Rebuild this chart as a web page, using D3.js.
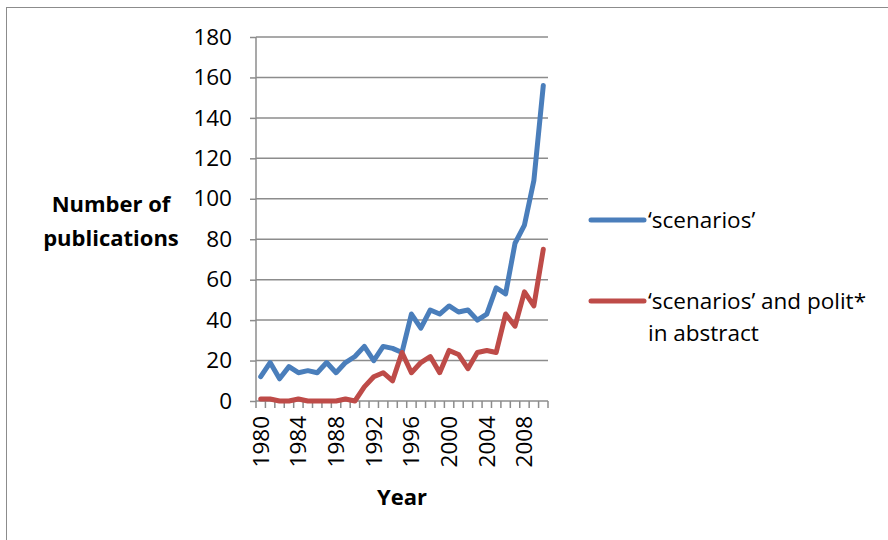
<!DOCTYPE html>
<html>
<head>
<meta charset="utf-8">
<script src="https://cdn.jsdelivr.net/npm/d3@7"></script>
<style>
  body { margin: 0; background: #fff; }
  svg { display: block; font-family: "Open Sans", Lato, sans-serif; }
  .grid line { stroke: #8c8c8c; stroke-width: 1.5; }
  .axis path, .axis line { stroke: #8c8c8c; stroke-width: 1.5; }
</style>
</head>
<body>
<svg id="chart" width="888" height="540"></svg>
<script>
// publication counts per year
var years = d3.range(1980, 2011);
var scenarios = [12, 19, 11, 17, 14, 15, 14, 19, 14, 19, 22, 27, 20, 27, 26, 24,
                 43, 36, 45, 43, 47, 44, 45, 40, 43, 56, 53, 78, 87, 109, 156];
var scenariosPolit = [1, 1, 0, 0, 1, 0, 0, 0, 0, 1, 0, 7, 12, 14, 10, 24,
                      14, 19, 22, 14, 25, 23, 16, 24, 25, 24, 43, 37, 54, 47, 75];
var yTicks = [0, 20, 40, 60, 80, 100, 120, 140, 160, 180];
var seriesNames = ['\u2018scenarios\u2019', '\u2018scenarios\u2019 and polit*'];
var seriesColors = ['#4a7ebb', '#be4b48'];

var FONT = 22.5;
var BOLD_FONT = 22;

var svg = d3.select('#chart');

// outer frame
svg.append('rect')
    .attr('x', 6.5).attr('y', 7.5)
    .attr('width', 900).attr('height', 560)
    .attr('fill', 'none')
    .attr('stroke', '#8c8c8c')
    .attr('stroke-width', 1);

var plotLeft = 256, plotRight = 548, plotTop = 37, plotBottom = 401;

var x = d3.scaleBand().domain(years).range([plotLeft, plotRight]);
var y = d3.scaleLinear().domain([0, 180]).range([plotBottom, plotTop]);

// horizontal gridlines
svg.append('g').attr('class', 'grid')
    .selectAll('line')
    .data(yTicks.filter(function (d) { return d > 0; }))
    .enter().append('line')
    .attr('x1', plotLeft).attr('x2', plotRight)
    .attr('y1', function (d) { return y(d); })
    .attr('y2', function (d) { return y(d); });

// y axis
var yAxis = svg.append('g').attr('class', 'axis')
    .attr('transform', 'translate(' + plotLeft + ',0)')
    .call(d3.axisLeft(y).tickValues(yTicks).tickSize(6).tickPadding(18));
yAxis.select('.domain').attr('d', 'M0,' + plotTop + 'V' + plotBottom);
yAxis.selectAll('text')
    .attr('font-size', FONT)
    .attr('fill', '#000')
    .attr('font-family', '"Open Sans", Lato, sans-serif');

// x axis: ticks at category boundaries
var xAxisG = svg.append('g').attr('class', 'axis');
xAxisG.append('line')
    .attr('x1', plotLeft).attr('x2', plotRight)
    .attr('y1', plotBottom).attr('y2', plotBottom);
xAxisG.selectAll('.tick')
    .data(years.concat([2011]))
    .enter().append('line')
    .attr('x1', function (d, i) { return plotLeft + i * x.step(); })
    .attr('x2', function (d, i) { return plotLeft + i * x.step(); })
    .attr('y1', plotBottom).attr('y2', plotBottom + 7);

svg.append('g')
    .selectAll('text')
    .data(years.filter(function (d) { return (d - 1980) % 4 === 0; }))
    .enter().append('text')
    .attr('transform', function (d) {
        return 'translate(' + (x(d) + x.bandwidth() / 2 + 8) + ',' + (plotBottom + 15) + ') rotate(-90)';
    })
    .attr('text-anchor', 'end')
    .attr('font-size', FONT)
    .attr('fill', '#000')
    .text(function (d) { return d; });

// axis titles
svg.append('text')
    .attr('x', 402).attr('y', 505)
    .attr('text-anchor', 'middle')
    .attr('font-size', BOLD_FONT).attr('font-weight', 'bold')
    .text('Year');

var yTitle = svg.append('text')
    .attr('text-anchor', 'middle')
    .attr('font-size', BOLD_FONT).attr('font-weight', 'bold');
yTitle.append('tspan').attr('x', 111).attr('y', 212).text('Number of');
yTitle.append('tspan').attr('x', 111).attr('y', 246).text('publications');

// lines
var line = d3.line()
    .x(function (d, i) { return x(years[i]) + x.bandwidth() / 2; })
    .y(function (d) { return y(d); });

[scenarios, scenariosPolit].forEach(function (series, k) {
    svg.append('path')
        .datum(series)
        .attr('d', line)
        .attr('fill', 'none')
        .attr('stroke', seriesColors[k])
        .attr('stroke-width', 5)
        .attr('stroke-linejoin', 'round')
        .attr('stroke-linecap', 'round');
});

// legend
var legendY = [220, 301];
seriesNames.forEach(function (name, k) {
    svg.append('line')
        .attr('x1', 591).attr('x2', 644)
        .attr('y1', legendY[k]).attr('y2', legendY[k])
        .attr('stroke', seriesColors[k])
        .attr('stroke-width', 5)
        .attr('stroke-linecap', 'round');
    svg.append('text')
        .attr('x', 648).attr('y', legendY[k] + 8)
        .attr('font-size', FONT)
        .text(name);
});
svg.append('text')
    .attr('x', 648).attr('y', 341)
    .attr('font-size', FONT)
    .text('in abstract');
</script>
</body>
</html>
